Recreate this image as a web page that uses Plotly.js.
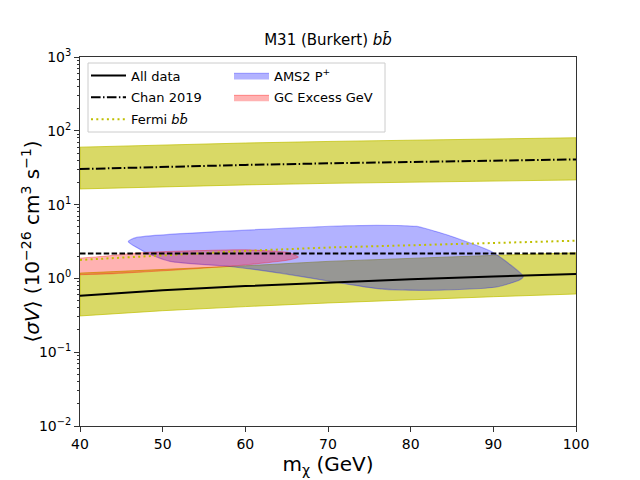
<!DOCTYPE html>
<html>
<head>
<meta charset="utf-8">
<script src="https://cdn.plot.ly/plotly-3.0.1.min.js"></script>
<style>html,body{margin:0;padding:0;background:#fff;}#chart{width:640px;height:480px;}</style>
</head>
<body>
<div id="chart"></div>
<script>
// mass grid (GeV)
const massGrid = [40, 50, 60, 70, 80, 90, 100];
// All data limit and its band
const allData     = [0.583, 0.689, 0.787, 0.883, 0.974, 1.06, 1.15];
const allDataLow  = [0.31, 0.365, 0.415, 0.465, 0.515, 0.565, 0.615];
const allDataHigh = [1.18, 1.31, 1.48, 1.70, 1.88, 2.05, 2.22];
// Chan 2019 and its band
const chan2019     = [30.3, 32.6, 34.5, 36.2, 37.8, 39.3, 41.0];
const chan2019Low  = [16.3, 17.5, 18.5, 19.4, 20.2, 20.9, 21.6];
const chan2019High = [60.0, 64.5, 68.3, 71.7, 74.9, 77.8, 80.5];
// Fermi bb limit
const fermiBB = [1.78, 2.03, 2.36, 2.62, 2.82, 3.05, 3.24];
// horizontal dashed reference
const dashedMass = [40, 100];
const dashedSV   = [2.17, 2.17];
// AMS2 P+ region (outline)
const amsMass = [45.84, 46.86, 72.3, 78.3, 80.73, 82.34, 84.36, 89.96, 93.62, 93.22, 90.4, 82.34, 76.29, 71.45, 64.19, 58.14, 50.89, 48.07, 45.84];
const amsSV   = [3.17, 3.59, 5.17, 5.21, 5.06, 4.56, 3.90, 2.25, 1.06, 0.96, 0.765, 0.689, 0.719, 0.867, 1.18, 1.45, 1.70, 2.21, 3.17];
// GC excess region (outline)
const gcMass = [38.0, 40.0, 48.07, 60.16, 65.4, 66.4, 65.4, 60.16, 52.1, 44.03, 40.0, 38.0];
const gcSV   = [1.95, 1.89, 2.25, 2.44, 2.21, 1.95, 1.79, 1.53, 1.31, 1.16, 1.12, 1.10];
// axis ticks
const xTicks = [40, 50, 60, 70, 80, 90, 100];
const yTicks = [0.01, 0.1, 1, 10, 100, 1000];
const yTickText = ['10<sup>−2</sup>', '10<sup>−1</sup>', '10<sup>0</sup>', '10<sup>1</sup>', '10<sup>2</sup>', '10<sup>3</sup>'];

function bandPoly(xs, lo, hi) {
  return {
    x: xs.concat(xs.slice().reverse()).concat([xs[0]]),
    y: hi.concat(lo.slice().reverse()).concat([hi[0]])
  };
}
const yMinor = [];
for (let d = -2; d <= 2; d++) for (let k = 2; k <= 9; k++) yMinor.push(k * Math.pow(10, d));

const bandCol = 'rgba(191,191,0,0.6)';
const b1 = bandPoly(massGrid, chan2019Low, chan2019High);
const b2 = bandPoly(massGrid, allDataLow, allDataHigh);

const traces = [
  {x: b1.x, y: b1.y, mode: 'lines', fill: 'toself', fillcolor: bandCol,
   line: {color: 'rgba(191,191,0,0.7)', width: 1}, showlegend: false, hoverinfo: 'skip'},
  {x: b2.x, y: b2.y, mode: 'lines', fill: 'toself', fillcolor: bandCol,
   line: {color: 'rgba(191,191,0,0.7)', width: 1}, showlegend: false, hoverinfo: 'skip'},
  {x: amsMass, y: amsSV, mode: 'lines', fill: 'toself', fillcolor: 'rgba(0,0,255,0.3)',
   line: {color: 'rgba(0,0,255,0.3)', width: 1.2, shape: 'spline', smoothing: 0.6},
   name: 'AMS2 P<sup>+</sup>', legend: 'legend2', legendgroup: 'g4', legendrank: 1},
  {x: gcMass, y: gcSV, mode: 'lines', fill: 'toself', fillcolor: 'rgba(255,0,0,0.3)',
   line: {color: 'rgba(255,0,0,0.3)', width: 1.2, shape: 'spline', smoothing: 0.6},
   name: 'GC Excess GeV', legend: 'legend2', legendgroup: 'g5', legendrank: 2},
  {x: massGrid, y: allData, mode: 'lines', line: {color: '#000', width: 2},
   name: 'All data', legendgroup: 'g1', legendrank: 1},
  {x: massGrid, y: chan2019, mode: 'lines', line: {color: '#000', width: 2, dash: '9.6px,2.4px,1.5px,2.4px'},
   name: 'Chan 2019', legendgroup: 'g2', legendrank: 2},
  {x: massGrid, y: fermiBB, mode: 'lines', line: {color: '#bfbf00', width: 2, dash: '2px,3.3px'},
   name: 'Fermi <i>bb̄</i>', legendgroup: 'g3', legendrank: 3},
  {x: dashedMass, y: dashedSV, mode: 'lines', line: {color: '#000', width: 2, dash: '5.5px,2.4px'}, showlegend: false}
];

const plotW = 496, plotH = 369;
const px = v => (v - 80) / plotW;       // pixel -> paper x
const py = v => 1 - (v - 57) / plotH;   // pixel -> paper y

const layout = {
  width: 640, height: 480,
  margin: {l: 80, r: 64, t: 57, b: 54},
  paper_bgcolor: '#fff', plot_bgcolor: '#fff',
  font: {family: 'DejaVu Sans', size: 14, color: '#000'},
  title: {text: 'M31 (Burkert) <i>bb̄</i>', font: {size: 15}, x: 0.5, xref: 'paper',
          y: 1 - 40 / 480, yref: 'container', yanchor: 'middle'},
  xaxis: {
    range: [40, 100], tickmode: 'array', tickvals: xTicks, ticks: 'outside', ticklen: 5,
    tickcolor: '#333', showgrid: false, zeroline: false, showline: true, linecolor: '#333',
    linewidth: 1, mirror: true, tickfont: {size: 14},
    title: {text: 'm<sub>χ</sub> (GeV)', font: {size: 20}, standoff: 6}
  },
  yaxis: {
    type: 'log', range: [-2, 3], tickmode: 'array', tickvals: yTicks, ticktext: yTickText,
    ticks: 'outside', ticklen: 5, tickcolor: '#333', showgrid: false, zeroline: false,
    showline: true, linecolor: '#333', linewidth: 1, mirror: true, tickfont: {size: 14},
    minor: {tickmode: 'array', tickvals: yMinor, ticks: 'outside', ticklen: 2.5, tickcolor: '#333', showgrid: false}
  },
  annotations: [{
    text: '⟨<i>σV</i>⟩ (10<sup>−26</sup> cm<sup>3</sup> s<sup>−1</sup>)', textangle: -90,
    xref: 'paper', yref: 'paper', x: px(30), y: 0.5, xanchor: 'center', yanchor: 'middle',
    showarrow: false, font: {size: 20}
  }],
  shapes: [{
    type: 'rect', xref: 'paper', yref: 'paper', x0: px(88), x1: px(385), y0: py(132), y1: py(63),
    line: {color: '#cccccc', width: 1}, fillcolor: '#ffffff', layer: 'above'
  }],
  legend: {
    x: px(86), y: py(60.5), xanchor: 'left', yanchor: 'top', orientation: 'v',
    traceorder: 'grouped', bgcolor: 'rgba(0,0,0,0)', borderwidth: 0, tracegroupgap: 2,
    font: {size: 13}, itemwidth: 35
  },
  legend2: {
    x: px(229), y: py(60.5), xanchor: 'left', yanchor: 'top', orientation: 'v',
    traceorder: 'grouped', bgcolor: 'rgba(0,0,0,0)', borderwidth: 0, tracegroupgap: 2,
    font: {size: 13}, itemwidth: 35
  },
  showlegend: true
};

Plotly.newPlot('chart', traces, layout, {staticPlot: true, displayModeBar: false});
</script>
</body>
</html>
